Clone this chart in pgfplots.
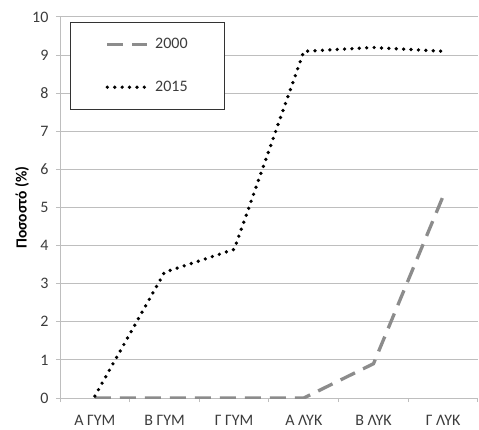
\documentclass[border=0pt]{standalone}
\usepackage{pgfplots}
\pgfplotsset{compat=1.18}
\usepackage{fontspec}
\setmainfont{Carlito}
\definecolor{gridc}{RGB}{190,190,190}
\definecolor{dashc}{RGB}{140,140,140}
\definecolor{txt}{RGB}{60,60,60}
\begin{document}
\begin{tikzpicture}[x=1pt,y=1pt]
\begin{axis}[
  at={(0,0)}, anchor=south west,
  scale only axis, width=418pt, height=381pt,
  xmin=-0.5, xmax=5.5, ymin=0, ymax=10,
  xtick={0,...,5},
  xticklabels={Α ΓΥΜ, Β ΓΥΜ, Γ ΓΥΜ, Α ΛΥΚ, Β ΛΥΚ, Γ ΛΥΚ},
  major x tick style={draw=none},
  minor xtick={-0.5,0.5,...,5.5},
  minor x tick style={draw=gridc, line width=1pt},
  minor tick length=4pt,
  ytick={0,...,10},
  tick align=outside, tick pos=left,
  major tick length=4pt,
  y tick style={draw=gridc, line width=1pt},
  ymajorgrids, grid style={draw=gridc, line width=1pt},
  axis x line*=bottom, axis y line*=left,
  axis line style={draw=gridc, line width=1pt, -},
  ticklabel style={font=\fontsize{16}{18}\selectfont, text=txt},
  yticklabel style={xshift=-4pt},
  xticklabel style={yshift=-10pt},
  /pgf/number format/assume math mode=true,
  ylabel={\bfseries Ποσοστό (\%)},
  ylabel style={font=\fontsize{15.5}{17}\selectfont, at={(axis description cs:0,0.5)}, anchor=center, yshift=38pt, xshift=0pt},
  legend style={at={(rel axis cs:0.024,0.987)}, anchor=north west,
    draw=black!80, line width=0.9pt, font=\fontsize{16}{18}\selectfont,
    inner xsep=35pt, inner ysep=14pt, row sep=27pt, text=txt},
  legend cell align=left,
  legend image code/.code={\draw[#1] (0pt,0pt) -- (40pt,0pt); \path (44pt,0pt);},
]
\addplot[dashc, line width=3.3pt, dash pattern=on 16pt off 9pt] coordinates {
  (0,0) (1,0) (2,0) (3,0) (4,0.9) (5,5.3)};
\addlegendentry{2000}
\addplot[black, line width=3.7pt, line cap=round, dash pattern=on 0pt off 7.4pt] coordinates {
  (0,0.05) (1,3.3) (2,3.9) (3,9.1) (4,9.2) (5,9.1)};
\addlegendentry{2015}
\end{axis}
\path[use as bounding box] (-60pt,-29pt) rectangle (419pt,398pt);
\end{tikzpicture}
\end{document}
